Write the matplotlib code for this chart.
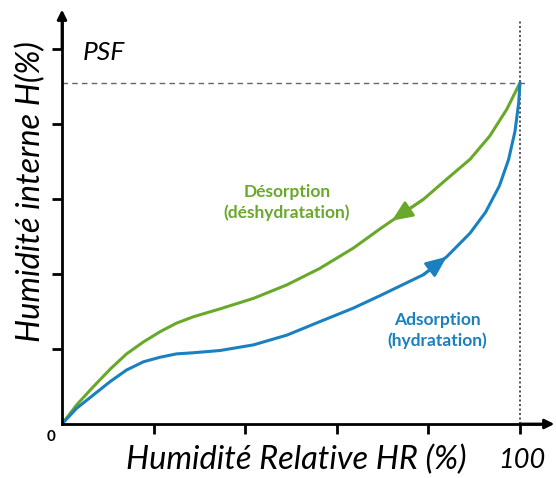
import matplotlib
matplotlib.use("Agg")
import matplotlib.pyplot as plt

plt.rcParams['font.family'] = ['Lato', 'DejaVu Sans']

# desorption (upper, green) and adsorption (lower, blue) curves
des_x = [0, 3.2, 6.8, 10.5, 14.1, 17.8, 21.4, 25.0, 28.7, 34.5, 41.8, 49.1, 56.3, 63.6,
         69.4, 72.0, 78.9, 84.0, 89.1, 93.4, 97.1, 100]
des_y = [0, 5.1, 9.9, 14.6, 18.7, 21.9, 24.6, 26.9, 28.6, 30.7, 33.5, 37.1, 41.5, 46.9,
         52.0, 54.2, 59.9, 65.3, 70.6, 76.8, 83.9, 91]
ads_x = [0, 3.2, 6.8, 10.5, 14.1, 17.8, 21.4, 25.0, 28.7, 34.5, 41.8, 49.1, 56.3, 63.6,
         69.4, 78.9, 84.0, 89.1, 92.5, 95.5, 97.5, 98.9, 99.7, 100]
ads_y = [0, 4.2, 7.7, 11.3, 14.4, 16.6, 17.8, 18.7, 19.0, 19.6, 21.1, 23.7, 27.3, 30.9,
         34.2, 39.8, 44.6, 50.9, 56.5, 63.5, 70.5, 78.0, 85.5, 91]
psf = 91
hr_max = 100

green = '#6aa82a'
blue = '#1a80c0'

fig = plt.figure(figsize=(5.56, 4.78), dpi=100)
ax = fig.add_axes([62 / 556, 54 / 478, 106 * 4.58 / 556, 109 * 3.75 / 478])
ax.set_xlim(0, 106)
ax.set_ylim(0, 109)

for s in ['top', 'right']:
    ax.spines[s].set_visible(False)
for s in ['left', 'bottom']:
    ax.spines[s].set_linewidth(2)
ax.set_xticks([20, 40, 60, 80, 100])
ax.set_yticks([20, 40, 60, 80, 100])
ax.tick_params(direction='out', length=7, width=2, labelbottom=False, labelleft=False)

# arrow heads on the axes
ax.annotate('', xy=(107.5, 0), xytext=(100, 0),
            arrowprops=dict(arrowstyle='-|>', color='black', lw=2, mutation_scale=14,
                            shrinkA=0, shrinkB=0),
            annotation_clip=False)
ax.annotate('', xy=(0, 110.5), xytext=(0, 100),
            arrowprops=dict(arrowstyle='-|>', color='black', lw=2, mutation_scale=14,
                            shrinkA=0, shrinkB=0),
            annotation_clip=False)

ax.plot([0, 101.5], [psf, psf], ls=(0, (4, 3)), color='#666666', lw=1)
ax.plot([hr_max, hr_max], [0, 108], ls=(0, (1.2, 1.5)), color='#333333', lw=1.2)

ax.plot(des_x, des_y, color=green, lw=2.2, solid_capstyle='round', solid_joinstyle='round')
ax.plot(ads_x, ads_y, color=blue, lw=2.2, solid_capstyle='round', solid_joinstyle='round')

# direction arrows along the curves
ax.annotate('', xy=(72.0, 54.2), xytext=(78.9, 59.9),
            arrowprops=dict(arrowstyle='-|>,head_length=0.7,head_width=0.3', color=green,
                            lw=2, mutation_scale=18, shrinkA=0, shrinkB=0))
ax.annotate('', xy=(84.0, 44.6), xytext=(78.9, 39.8),
            arrowprops=dict(arrowstyle='-|>,head_length=0.7,head_width=0.3', color=blue,
                            lw=2, mutation_scale=18, shrinkA=0, shrinkB=0))

ax.text(49.1, 59, 'Désorption\n(déshydratation)', color=green, fontsize=12.5,
        fontweight='bold', ha='center', va='center', linespacing=1.3)
ax.text(81.9, 25, 'Adsorption\n(hydratation)', color=blue, fontsize=12.5,
        fontweight='bold', ha='center', va='center', linespacing=1.3)

ax.text(4.5, 99, 'PSF', fontsize=19, style='italic', ha='left', va='center')
ax.text(-1.5, -1.5, '0', fontsize=11, fontweight='bold', ha='right', va='top')

fig.text(296 / 556, 1 - 460 / 478, 'Humidité Relative HR (%)', fontsize=23.5,
         style='italic', ha='center', va='center')
fig.text(522 / 556, 1 - 460 / 478, '100', fontsize=19.5, style='italic',
         ha='center', va='center')
fig.text(31 / 556, 1 - 192 / 478, 'Humidité interne H(%)', fontsize=23.5,
         style='italic', ha='center', va='center', rotation=90)

fig.savefig('out.png', dpi=100)
